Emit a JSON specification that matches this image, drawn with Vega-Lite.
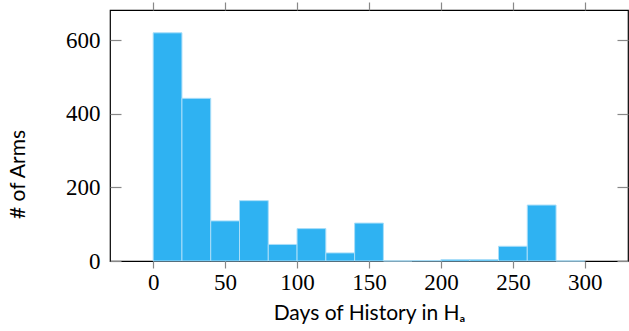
{
  "$schema": "https://vega.github.io/schema/vega-lite/v6.json",
  "width": 518,
  "height": 251,
  "autosize": {"type": "none"},
  "padding": {"left": 110, "top": 10, "right": 1, "bottom": 70},
  "background": "white",
  "config": {
    "view": {"stroke": "#000000", "strokeWidth": 1.2},
    "axis": {"grid": false, "domain": false, "tickColor": "#888888", "tickWidth": 1.2, "labelColor": "#000000", "titleColor": "#000000", "labelFont": "Liberation Serif", "labelFontSize": 23, "titleFont": "Lato", "titleFontSize": 21, "titleFontWeight": "normal"}
  },
  "data": {
    "values": [
      {"start": 0, "end": 20, "count": 620},
      {"start": 20, "end": 40, "count": 442},
      {"start": 40, "end": 60, "count": 109},
      {"start": 60, "end": 80, "count": 164},
      {"start": 80, "end": 100, "count": 45},
      {"start": 100, "end": 120, "count": 88},
      {"start": 120, "end": 140, "count": 22},
      {"start": 140, "end": 160, "count": 103},
      {"start": 160, "end": 180, "count": 0},
      {"start": 180, "end": 200, "count": 1},
      {"start": 200, "end": 220, "count": 4},
      {"start": 220, "end": 240, "count": 4},
      {"start": 240, "end": 260, "count": 40},
      {"start": 260, "end": 280, "count": 152},
      {"start": 280, "end": 300, "count": 0}
    ]
  },
  "resolve": {"axis": {"x": "independent", "y": "independent"}},
  "layer": [
    {
      "mark": {"type": "bar", "fill": "#2fb2f2", "stroke": "#a9def9", "strokeWidth": 1},
      "encoding": {
        "x": {"field": "start", "type": "quantitative", "scale": {"domain": [-30, 330], "nice": false, "zero": false},
          "axis": {"orient": "bottom", "values": [0, 50, 100, 150, 200, 250, 300], "tickSize": 7, "labelPadding": 3, "title": "Days of History in Hₐ", "titlePadding": 8}},
        "x2": {"field": "end"},
        "y": {"field": "count", "type": "quantitative", "scale": {"domain": [0, 682], "nice": false},
          "axis": {"orient": "left", "values": [0, 200, 400, 600], "ticks": false, "grid": true, "gridColor": "#888888", "gridWidth": 1.2, "gridDash": [11, 2000], "labelPadding": 10, "title": "# of Arms", "titleAngle": 270, "titleX": -86, "titleY": 164, "titleBaseline": "alphabetic", "titleAlign": "center"}},
        "y2": {"datum": 0}
      }
    },
    {
      "mark": {"type": "bar", "opacity": 0},
      "encoding": {
        "x": {"field": "start", "type": "quantitative", "axis": {"orient": "top", "values": [0, 50, 100, 150, 200, 250, 300], "tickSize": 8, "labels": false, "title": null}},
        "x2": {"field": "end"},
        "y": {"field": "count", "type": "quantitative", "axis": {"orient": "right", "values": [0, 200, 400, 600], "ticks": false, "grid": true, "gridColor": "#888888", "gridWidth": 1.2, "gridDash": [11, 2000], "labels": false, "title": null}},
        "y2": {"datum": 0}
      }
    }
  ]
}
